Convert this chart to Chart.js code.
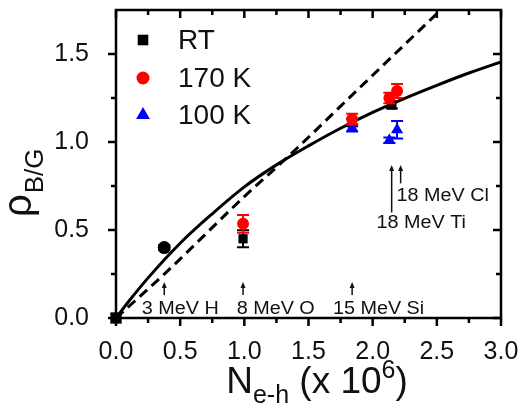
<!DOCTYPE html>
<html>
<head>
<meta charset="utf-8">
<script src="https://cdn.jsdelivr.net/npm/chart.js@4/dist/chart.umd.min.js"></script>
<style>
html,body{margin:0;padding:0;background:#fff;}
#wrap{width:522px;height:416px;}
</style>
</head>
<body>
<div id="wrap"><canvas id="c" width="522" height="416"></canvas></div>
<script>
// ---- data ----
const xTickValues = [0, 0.5, 1.0, 1.5, 2.0, 2.5, 3.0];
const xMinorValues = [0.25, 0.75, 1.25, 1.75, 2.25, 2.75];
const yTickValues = [0, 0.5, 1.0, 1.5];
const yMinorValues = [0.25, 0.75, 1.25];

const seriesLabels = ['RT', '170 K', '100 K'];

const rtX = [0, 0.376, 0.99, 1.84, 2.15];
const rtY = [0, 0.40, 0.45, 1.11, 1.21];
const rtErr = [0, 0.015, 0.048, 0.02, 0.02];

const k170X = [0.99, 1.84, 2.13, 2.19];
const k170Y = [0.535, 1.13, 1.25, 1.29];
const k170Err = [0.05, 0.03, 0.03, 0.04];

const k100X = [1.84, 2.13, 2.19];
const k100Y = [1.08, 1.01, 1.07];
const k100Err = [0.02, 0.015, 0.05];

const fitX = [0, 0.1, 0.25, 0.5, 0.75, 1.0, 1.25, 1.5, 1.75, 2.0, 2.25, 2.5, 2.75, 3.0];
const fitY = [0, 0.095, 0.228, 0.425, 0.592, 0.745, 0.87, 0.978, 1.078, 1.168, 1.248, 1.322, 1.392, 1.455];

const dashX = [0, 0.37, 1.0, 1.36, 1.93, 2.53];
const dashY = [0, 0.245, 0.69, 0.93, 1.33, 1.75];

const ionLabels = ['3 MeV H', '8 MeV O', '15 MeV Si', '18 MeV Ti', '18 MeV Cl'];
const ionArrowX = [0.376, 0.99, 1.84, 2.148, 2.218];

// ---- helpers ----
const pts = (xs, ys) => xs.map((x, i) => ({x: x, y: ys[i]}));
const FONT = "'Liberation Sans', Arial, sans-serif";

function drawMarker(ctx, style, x, y, r, color) {
  ctx.save();
  ctx.fillStyle = color;
  ctx.beginPath();
  if (style === 'rect') {
    const s = r * Math.SQRT1_2;
    ctx.rect(x - s, y - s, 2 * s, 2 * s);
  } else if (style === 'circle') {
    ctx.arc(x, y, r, 0, Math.PI * 2);
  } else if (style === 'triangle') {
    const w = r * Math.sqrt(3);
    ctx.moveTo(x, y - r);
    ctx.lineTo(x + w / 2, y + r / 2);
    ctx.lineTo(x - w / 2, y + r / 2);
    ctx.closePath();
  }
  ctx.fill();
  ctx.restore();
}

const errorBarPlugin = {
  id: 'errorBars',
  afterDatasetDraw(chart, args) {
    const ds = chart.data.datasets[args.index];
    if (!ds.errors) return;
    const ctx = chart.ctx, xs = chart.scales.x, ys = chart.scales.y;
    ctx.save();
    ctx.strokeStyle = ds.backgroundColor;
    ctx.lineWidth = 2;
    ds.data.forEach((p, i) => {
      const e = ds.errors[i];
      if (!e) return;
      const px = xs.getPixelForValue(p.x);
      const pTop = ys.getPixelForValue(p.y + e);
      const pBot = ys.getPixelForValue(p.y - e);
      ctx.beginPath();
      ctx.moveTo(px, pTop); ctx.lineTo(px, pBot);
      ctx.moveTo(px - 6, pTop); ctx.lineTo(px + 6, pTop);
      ctx.moveTo(px - 6, pBot); ctx.lineTo(px + 6, pBot);
      ctx.stroke();
    });
    ctx.restore();
  }
};

const framePlugin = {
  id: 'frame',
  beforeDatasetsDraw(chart) {
    const ctx = chart.ctx, a = chart.chartArea, xs = chart.scales.x, ys = chart.scales.y;
    ctx.save();
    ctx.strokeStyle = '#000';
    ctx.lineWidth = 2.5;
    ctx.lineCap = 'square';
    ctx.strokeRect(a.left, a.top, a.right - a.left, a.bottom - a.top);
    ctx.lineCap = 'butt';
    const major = 8, minor = 5;
    ctx.beginPath();
    xTickValues.concat(xMinorValues).forEach(v => {
      const len = xTickValues.includes(v) ? major : minor;
      const p = xs.getPixelForValue(v);
      ctx.moveTo(p, a.bottom); ctx.lineTo(p, a.bottom + len);
      ctx.moveTo(p, a.top); ctx.lineTo(p, a.top + len);
    });
    yTickValues.concat(yMinorValues).forEach(v => {
      const len = yTickValues.includes(v) ? major : minor;
      const p = ys.getPixelForValue(v);
      ctx.moveTo(a.left, p); ctx.lineTo(a.left - len, p);
      ctx.moveTo(a.right, p); ctx.lineTo(a.right - len, p);
    });
    ctx.stroke();
    ctx.restore();
  }
};

const decorPlugin = {
  id: 'decor',
  afterDraw(chart) {
    const ctx = chart.ctx, xs = chart.scales.x, ys = chart.scales.y, a = chart.chartArea;
    ctx.save();
    ctx.fillStyle = '#111';
    ctx.strokeStyle = '#111';
    ctx.textBaseline = 'alphabetic';

    // legend
    const legStyles = ['rect', 'circle', 'triangle'];
    const legColors = ['#000', '#ff0000', '#0000ff'];
    const legR = [7.5, 6.5, 8];
    const legRows = [40, 78, 115];
    ctx.font = '28px ' + FONT;
    seriesLabels.forEach((lab, i) => {
      drawMarker(ctx, legStyles[i], a.left + 27, legRows[i], legR[i], legColors[i]);
      ctx.fillStyle = '#111';
      ctx.textBaseline = 'middle';
      ctx.fillText(lab, a.left + 62, legRows[i] + 1);
    });
    ctx.textBaseline = 'alphabetic';

    // ion annotations with arrows
    ctx.font = '18px ' + FONT;
    ctx.lineWidth = 1.5;
    function arrow(xv, yTip, yBase) {
      const px = xs.getPixelForValue(xv);
      const t = ys.getPixelForValue(yTip), b = ys.getPixelForValue(yBase);
      ctx.beginPath(); ctx.moveTo(px, b); ctx.lineTo(px, t + 3); ctx.stroke();
      ctx.beginPath(); ctx.moveTo(px, t); ctx.lineTo(px - 2.5, t + 6); ctx.lineTo(px + 2.5, t + 6); ctx.closePath(); ctx.fill();
    }
    function label(txt, xv, yv) {
      ctx.save();
      ctx.translate(xs.getPixelForValue(xv), ys.getPixelForValue(yv));
      ctx.scale(1.1, 1);
      ctx.fillText(txt, 0, 0);
      ctx.restore();
    }
    // bottom ions
    const textStartX = [0.2, 0.94, 1.69];
    for (let i = 0; i < 3; i++) {
      arrow(ionArrowX[i], 0.205, 0.13);
      label(ionLabels[i], textStartX[i], 0.022);
    }
    // Ti and Cl
    arrow(ionArrowX[3], 0.87, 0.6);
    arrow(ionArrowX[4], 0.87, 0.765);
    label(ionLabels[4], 2.185, 0.663);
    label(ionLabels[3], 2.03, 0.51);

    // y-axis title  rho_{B/G}
    ctx.save();
    ctx.translate(31, 217);
    ctx.rotate(-Math.PI / 2);
    ctx.font = '40px ' + FONT;
    ctx.fillText('\u03C1', 0, 0);
    const rw = ctx.measureText('\u03C1').width;
    ctx.font = '26px ' + FONT;
    ctx.fillText('B/G', rw + 1, 12);
    ctx.restore();

    // x-axis title  N_{e-h} (x 10^6)
    const big = '37px ' + FONT, small = '25px ' + FONT;
    const parts = [['N', big, 0], ['e-h', small, 10], [' (x 10', big, 0], ['6', small, -15], [')', big, 0]];
    let total = 0;
    parts.forEach(p => { ctx.font = p[1]; total += ctx.measureText(p[0]).width; });
    let cx = 317 - total / 2;
    const base = 393;
    parts.forEach(p => { ctx.font = p[1]; ctx.fillText(p[0], cx, base + p[2]); cx += ctx.measureText(p[0]).width; });
    ctx.restore();
  }
};

new Chart(document.getElementById('c'), {
  type: 'scatter',
  data: {
    datasets: [
      {label: 'fit', type: 'line', data: pts(fitX, fitY), borderColor: '#000', borderWidth: 3,
       pointRadius: 0, fill: false, cubicInterpolationMode: 'monotone', order: 5},
      {label: 'linear', type: 'line', data: pts(dashX, dashY), borderColor: '#000', borderWidth: 3,
       borderDash: [10, 6], pointRadius: 0, fill: false, cubicInterpolationMode: 'monotone', order: 6},
      {label: seriesLabels[0], data: pts(rtX, rtY), errors: rtErr, backgroundColor: '#000', borderColor: '#000',
       pointStyle: ['rect', 'circle', 'rect', 'rect', 'rect'], pointRadius: [8, 6.5, 6.5, 6.5, 6.5], borderWidth: 0, clip: false, order: 3},
      {label: seriesLabels[2], data: pts(k100X, k100Y), errors: k100Err, backgroundColor: '#0000ff', borderColor: '#0000ff',
       pointStyle: 'triangle', pointRadius: 7, borderWidth: 0, clip: false, order: 2},
      {label: seriesLabels[1], data: pts(k170X, k170Y), errors: k170Err, backgroundColor: '#ff0000', borderColor: '#ff0000',
       pointStyle: 'circle', pointRadius: 6, borderWidth: 0, clip: false, order: 1}
    ]
  },
  options: {
    responsive: false,
    animation: false,
    events: [],
    layout: {autoPadding: false, padding: {top: 10, right: 21, left: 0, bottom: 0}},
    plugins: {legend: {display: false}, tooltip: {enabled: false}, title: {display: false}},
    scales: {
      x: {
        type: 'linear', min: 0, max: 3.0,
        grid: {display: false}, border: {display: false},
        afterBuildTicks: s => { s.ticks = xTickValues.map(v => ({value: v})); },
        afterFit: s => { s.height = 98; s.paddingLeft = 0; s.paddingRight = 0; s.paddingTop = 0; s.paddingBottom = 0; },
        ticks: {color: '#111', font: {family: FONT, size: 25}, padding: 11, maxRotation: 0,
                callback: v => Number(v).toFixed(1)}
      },
      y: {
        type: 'linear', min: 0, max: 1.75,
        grid: {display: false}, border: {display: false},
        afterBuildTicks: s => { s.ticks = yTickValues.map(v => ({value: v})); },
        afterFit: s => { s.width = 116; s.paddingTop = 0; s.paddingBottom = 0; s.paddingLeft = 0; s.paddingRight = 0; },
        ticks: {color: '#111', font: {family: FONT, size: 25}, padding: 19,
                callback: v => Number(v).toFixed(1)}
      }
    }
  },
  plugins: [framePlugin, errorBarPlugin, decorPlugin]
});
</script>
</body>
</html>
